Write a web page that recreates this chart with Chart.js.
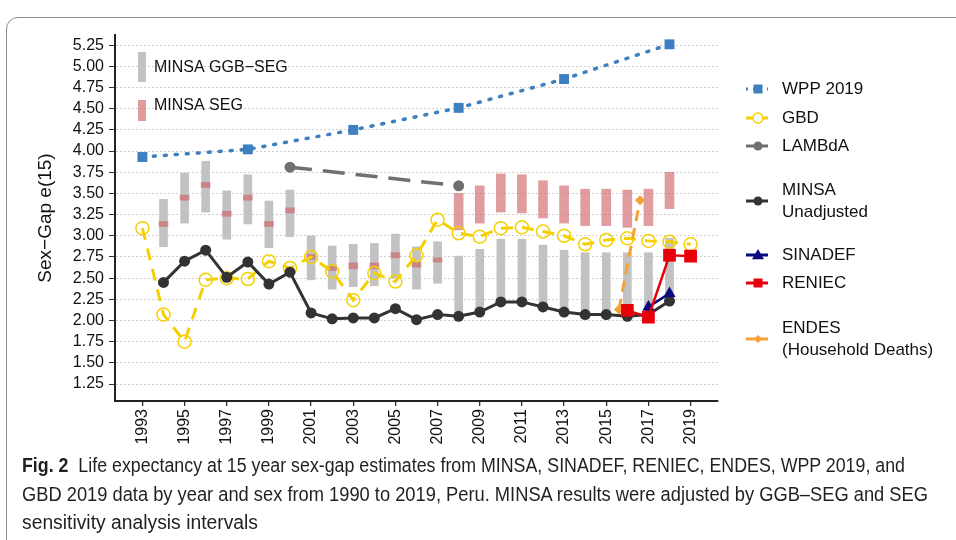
<!DOCTYPE html>
<html>
<head>
<meta charset="utf-8">
<script src="https://cdn.jsdelivr.net/npm/chart.js@4.4.1/dist/chart.umd.min.js"></script>
<style>
  body { margin: 0; background: #fff; width: 956px; height: 540px; overflow: hidden; position: relative; font-family: 'Liberation Sans', Arial, sans-serif; }
  #frame { position: absolute; left: 6px; top: 17px; width: 980px; height: 560px; border: 1.5px solid #8c8c8c; border-top-left-radius: 12px; }
  #wrap { position: absolute; left: 0; top: 0; width: 956px; height: 455px; }
  #caption { position: absolute; left: 22px; top: 451px; font-family: 'Liberation Sans', Arial, sans-serif; font-size: 20px; line-height: 28.5px; color: #231f20; white-space: nowrap; }
  #caption span { display: inline-block; transform-origin: 0 50%; }
  #caption b { font-weight: bold; }
</style>
</head>
<body>
<div id="frame"></div>
<div id="wrap"><canvas id="chart" width="956" height="455"></canvas></div>
<div id="caption"><span data-w="883"><b>Fig. 2</b>&nbsp; Life expectancy at 15 year sex-gap estimates from MINSA, SINADEF, RENIEC, ENDES, WPP 2019, and</span><br><span data-w="906">GBD 2019 data by year and sex from 1990 to 2019, Peru. MINSA results were adjusted by GGB–SEG and SEG</span><br><span data-w="236">sensitivity analysis intervals</span></div>
<script>
// ejes
const xTicks = [1993, 1995, 1997, 1999, 2001, 2003, 2005, 2007, 2009, 2011, 2013, 2015, 2017, 2019];
const yTicks = [1.25, 1.5, 1.75, 2, 2.25, 2.5, 2.75, 3, 3.25, 3.5, 3.75, 4, 4.25, 4.5, 4.75, 5, 5.25];

// MINSA 1994-2018
const minsaYears = [1994, 1995, 1996, 1997, 1998, 1999, 2000, 2001, 2002, 2003, 2004, 2005, 2006,
                    2007, 2008, 2009, 2010, 2011, 2012, 2013, 2014, 2015, 2016, 2017, 2018];
const minsaUnadj = [2.45, 2.70, 2.83, 2.51, 2.69, 2.43, 2.57, 2.09, 2.02, 2.03, 2.03, 2.14, 2.01,
                    2.07, 2.05, 2.10, 2.22, 2.22, 2.16, 2.10, 2.07, 2.07, 2.05, 2.07, 2.23];
const ggbSegLow  = [2.87, 3.15, 3.28, 2.96, 3.14, 2.86, 2.99, 2.48, 2.37, 2.40, 2.41, 2.50, 2.37,
                    2.44, 2.05, 2.10, 2.22, 2.22, 2.16, 2.10, 2.07, 2.07, 2.05, 2.07, 2.23];
const ggbSegHigh = [3.43, 3.74, 3.88, 3.53, 3.72, 3.41, 3.54, 3.00, 2.88, 2.90, 2.91, 3.02, 2.87,
                    2.93, 2.76, 2.84, 2.96, 2.96, 2.89, 2.83, 2.80, 2.80, 2.80, 2.80, 2.97];
const segLow     = [3.11, 3.42, 3.57, 3.23, 3.42, 3.11, 3.27, 2.72, 2.59, 2.61, 2.61, 2.74, 2.63,
                    2.69, 3.07, 3.15, 3.28, 3.27, 3.21, 3.15, 3.12, 3.12, 3.10, 3.12, 3.32];
const segHigh    = [3.17, 3.48, 3.63, 3.29, 3.48, 3.17, 3.33, 2.78, 2.65, 2.68, 2.68, 2.80, 2.69,
                    2.74, 3.50, 3.59, 3.73, 3.72, 3.65, 3.59, 3.55, 3.55, 3.54, 3.55, 3.75];

// GBD 1993-2019
const gbdYears = [1993, 1994, 1995, 1996, 1997, 1998, 1999, 2000, 2001, 2002, 2003, 2004, 2005, 2006,
                  2007, 2008, 2009, 2010, 2011, 2012, 2013, 2014, 2015, 2016, 2017, 2018, 2019];
const gbdValues = [3.09, 2.07, 1.75, 2.48, 2.50, 2.49, 2.70, 2.62, 2.75, 2.58, 2.24, 2.56, 2.46, 2.77,
                   3.19, 3.03, 2.99, 3.09, 3.10, 3.05, 3.00, 2.90, 2.95, 2.97, 2.94, 2.93, 2.90];

const wppYears = [1993, 1998, 2003, 2008, 2013, 2018];
const wppValues = [3.93, 4.02, 4.25, 4.51, 4.85, 5.26];

const lambdaYears = [2000, 2008];
const lambdaValues = [3.81, 3.59];

const sinadefYears = [2017, 2018];
const sinadefValues = [2.16, 2.32];

const reniecYears = [2016, 2017, 2018, 2019];
const reniecValues = [2.12, 2.04, 2.77, 2.76];

const endesYears = [2015.6, 2016.6];
const endesValues = [2.13, 3.42];

// Colores
const cWpp = '#3d7fbf';
const cGbd = '#f5d000';
const cLambda = '#707070';
const cMinsa = '#333333';
const cSinadef = '#0a0a80';
const cReniec = '#e8000b';
const cEndes = '#f7a035';
const cGris = '#c2c2c2';
const cRojo = 'rgba(205, 95, 100, 0.62)';

const puntos = (xs, ys) => xs.map((x, i) => ({ x: x, y: ys[i] }));
const rangos = (xs, lo, hi) => xs.map((x, i) => ({ x: x, y: [lo[i], hi[i]] }));

// Ajustar el ancho del pie de figura (fuente condensada en el original)
document.querySelectorAll('#caption span').forEach(s => {
    const w = s.getBoundingClientRect().width;
    s.style.transform = 'scaleX(' + (parseFloat(s.dataset.w) / w) + ')';
});

// Leyenda lateral y anotaciones dentro del panel
const legendItems = [
    { text: ['WPP 2019'], y: 89, color: cWpp, dash: [2, 5], width: 3, style: 'rect', r: 6, fill: true },
    { text: ['GBD'], y: 118, color: cGbd, dash: [], width: 3, style: 'circle', r: 5, fill: false },
    { text: ['LAMBdA'], y: 146, color: cLambda, dash: [], width: 3, style: 'circle', r: 4.5, fill: true },
    { text: ['MINSA', 'Unadjusted'], y: 201, color: cMinsa, dash: [], width: 3, style: 'circle', r: 4.5, fill: true },
    { text: ['SINADEF'], y: 255, color: cSinadef, dash: [], width: 3, style: 'triangle', r: 6, fill: true },
    { text: ['RENIEC'], y: 283, color: cReniec, dash: [], width: 3, style: 'rect', r: 6, fill: true },
    { text: ['ENDES', '(Household Deaths)'], y: 339, color: cEndes, dash: [], width: 3, style: 'rectRot', r: 4, fill: true }
];

function marca(ctx, style, x, y, r, color, fill) {
    ctx.beginPath();
    if (style === 'rect') {
        ctx.rect(x - r * 0.75, y - r * 0.75, r * 1.5, r * 1.5);
    } else if (style === 'rectRot') {
        ctx.moveTo(x, y - r); ctx.lineTo(x + r, y); ctx.lineTo(x, y + r); ctx.lineTo(x - r, y); ctx.closePath();
    } else if (style === 'triangle') {
        ctx.moveTo(x, y - r); ctx.lineTo(x + r, y + r * 0.7); ctx.lineTo(x - r, y + r * 0.7); ctx.closePath();
    } else {
        ctx.arc(x, y, r, 0, Math.PI * 2);
    }
    if (fill) { ctx.fillStyle = color; ctx.fill(); }
    else { ctx.fillStyle = '#fff'; ctx.fill(); ctx.lineWidth = 1.5; ctx.strokeStyle = color; ctx.stroke(); }
}

const extrasPlugin = {
    id: 'extras',
    afterDraw(chart) {
        const ctx = chart.ctx;
        const area = chart.chartArea;
        ctx.save();
        // cajas de referencia de MINSA
        ctx.fillStyle = cGris;
        ctx.fillRect(area.left + 23, area.top + 17, 8, 30);
        ctx.fillStyle = cRojo;
        ctx.fillRect(area.left + 23, area.top + 65, 8, 21);
        ctx.fillStyle = '#111';
        ctx.font = '16px "Liberation Sans", Arial, sans-serif';
        ctx.textBaseline = 'middle';
        ctx.textAlign = 'left';
        ctx.fillText('MINSA GGB\u2212SEG', area.left + 39, area.top + 33);
        ctx.fillText('MINSA SEG', area.left + 39, area.top + 71);

        // leyenda
        ctx.font = '17px "Liberation Sans", Arial, sans-serif';
        legendItems.forEach(item => {
            ctx.save();
            ctx.strokeStyle = item.color;
            ctx.lineWidth = item.width;
            ctx.setLineDash(item.dash);
            ctx.beginPath();
            ctx.moveTo(746, item.y);
            ctx.lineTo(768, item.y);
            ctx.stroke();
            ctx.setLineDash([]);
            marca(ctx, item.style, 758, item.y, item.r, item.color, item.fill);
            ctx.restore();
            ctx.fillStyle = '#111';
            const y0 = item.y - (item.text.length - 1) * 11;
            item.text.forEach((t, i) => ctx.fillText(t, 782, y0 + i * 22));
        });
        ctx.restore();
    }
};

new Chart(document.getElementById('chart'), {
    type: 'bar',
    data: {
        datasets: [
            {
                type: 'bar', label: 'MINSA GGB-SEG', data: rangos(minsaYears, ggbSegLow, ggbSegHigh),
                backgroundColor: cGris, barThickness: 8, grouped: false, order: 10
            },
            {
                type: 'bar', label: 'MINSA SEG', data: rangos(minsaYears, segLow, segHigh),
                backgroundColor: cRojo, barThickness: 9, grouped: false, order: 9
            },
            {
                type: 'line', label: 'WPP 2019', data: puntos(wppYears, wppValues),
                borderColor: cWpp, borderWidth: 3.5, borderDash: [2, 9], borderCapStyle: 'round',
                pointStyle: 'rect', pointRadius: 7, pointBackgroundColor: cWpp, pointBorderWidth: 0, order: 5
            },
            {
                type: 'line', label: 'LAMBdA', data: puntos(lambdaYears, lambdaValues),
                borderColor: cLambda, borderWidth: 3.5, borderDash: [22, 11],
                pointRadius: 5.5, pointBackgroundColor: cLambda, pointBorderWidth: 0, order: 5
            },
            {
                type: 'line', label: 'GBD', data: puntos(gbdYears, gbdValues),
                borderColor: cGbd, borderWidth: 3, borderDash: [12, 9],
                pointRadius: 6.5, pointBackgroundColor: 'rgba(255,255,255,0)', pointBorderColor: cGbd, pointBorderWidth: 1.5, order: 4
            },
            {
                type: 'line', label: 'MINSA Unadjusted', data: puntos(minsaYears, minsaUnadj),
                borderColor: cMinsa, borderWidth: 3,
                pointRadius: 5.5, pointBackgroundColor: cMinsa, pointBorderWidth: 0, order: 3
            },
            {
                type: 'line', label: 'ENDES', data: puntos(endesYears, endesValues),
                borderColor: cEndes, borderWidth: 3, borderDash: [11, 7],
                pointStyle: 'rectRot', pointRadius: 5, pointBackgroundColor: cEndes, pointBorderWidth: 0, order: 2
            },
            {
                type: 'line', label: 'SINADEF', data: puntos(sinadefYears, sinadefValues),
                borderColor: cSinadef, borderWidth: 2.5,
                pointStyle: 'triangle', pointRadius: 7, pointBackgroundColor: cSinadef, pointBorderWidth: 0, order: 2
            },
            {
                type: 'line', label: 'RENIEC', data: puntos(reniecYears, reniecValues),
                borderColor: cReniec, borderWidth: 2.5,
                pointStyle: 'rect', pointRadius: 9, pointBackgroundColor: cReniec, pointBorderWidth: 0, order: 1
            }
        ]
    },
    options: {
        responsive: false,
        animation: false,
        layout: { padding: { top: 35, right: 238, left: 0, bottom: 0 } },
        plugins: { legend: { display: false }, tooltip: { enabled: false } },
        scales: {
            x: {
                type: 'linear', min: 1991.7, max: 2020.3, offset: false,
                afterBuildTicks: s => { s.ticks = xTicks.map(v => ({ value: v })); },
                afterFit: s => { s.height = 54; },
                grid: { offset: false, drawOnChartArea: false, tickColor: '#333', tickLength: 5, lineWidth: 1.3 },
                border: { color: '#222', width: 2 },
                ticks: {
                    autoSkip: false, minRotation: 90, maxRotation: 90, padding: 3,
                    color: '#111', font: { family: 'Liberation Sans', size: 16 },
                    callback: v => String(v)
                }
            },
            y: {
                type: 'linear', min: 1.05, max: 5.37,
                afterBuildTicks: s => { s.ticks = yTicks.map(v => ({ value: v })); },
                afterFit: s => { s.width = 115; },
                grid: { color: '#cfcfcf', lineWidth: 1, tickColor: '#333', tickLength: 6 },
                border: { color: '#222', width: 2, dash: [2, 2] },
                ticks: {
                    padding: 5, color: '#111', font: { family: 'Liberation Sans', size: 16 },
                    callback: v => v.toFixed(2)
                },
                title: {
                    display: true, text: 'Sex\u2212Gap e(15)', color: '#111',
                    font: { family: 'Liberation Sans', size: 19 }, padding: { top: 34, bottom: 0 }
                }
            }
        }
    },
    plugins: [extrasPlugin]
});
</script>
</body>
</html>
